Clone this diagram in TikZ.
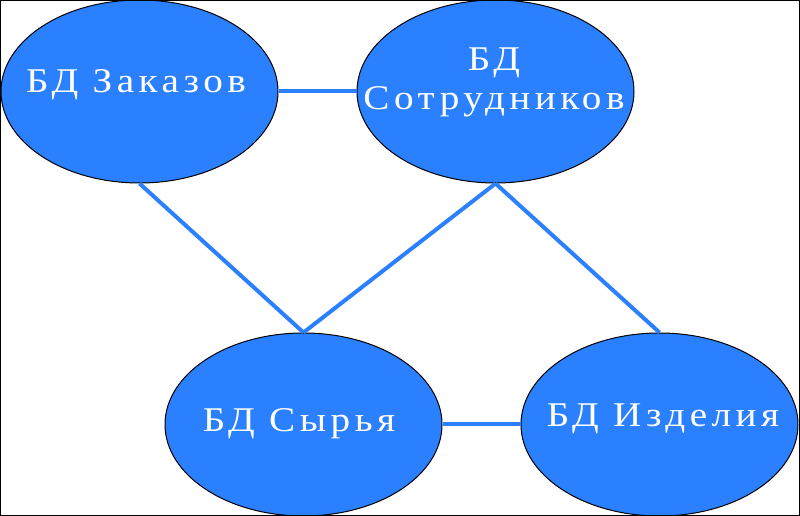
\documentclass[tikz,border=0pt]{standalone}
\usepackage{fontspec}
\setmainfont{Liberation Serif}
\newfontfamily\dbfont[LetterSpace=13,FakeStretch=1.13]{Liberation Serif}
\usetikzlibrary{shapes.geometric}
\definecolor{dbblue}{HTML}{2A80FF}
\begin{document}
\begin{tikzpicture}[x=0.75pt,y=-0.75pt,
  db/.style={ellipse, draw=black, line width=0.75pt, fill=dbblue,
    minimum width=207.75pt, minimum height=137.25pt, inner sep=0pt},
  dbtext/.style={text=white, font=\dbfont\fontsize{26}{29.25}\selectfont,
    align=center, inner sep=0pt, text depth=0pt, anchor=south},
  link/.style={draw=dbblue, line width=3pt}]
\useasboundingbox (0,0) rectangle (800,516);

% databases
\node[db] (orders) at (139.5,91.5) {};
\node[db] (staff) at (495.5,91.5) {};
\node[db] (raw) at (303.5,424.5) {};
\node[db] (goods) at (659.5,424.5) {};

% captions
\node[dbtext] (ordersT) at (136,93) {БД Заказов};
\node[dbtext] (staffT) at (494,110) {БД\\Сотрудников};
\node[dbtext] (rawT) at (299,432) {БД Сырья};
\node[dbtext] (goodsT) at (663,427) {БД Изделия};

% links between databases
\draw[link] (orders) -- (staff);
\draw[link] (orders.south) -- (raw.north);
\draw[link] (staff.south) -- (raw.north);
\draw[link] (staff.south) -- (goods.north);
\draw[link] (raw) -- (goods);

% frame
\draw[black, line width=0.75pt] (0.5,0.5) rectangle (799.5,515.5);
\end{tikzpicture}
\end{document}
